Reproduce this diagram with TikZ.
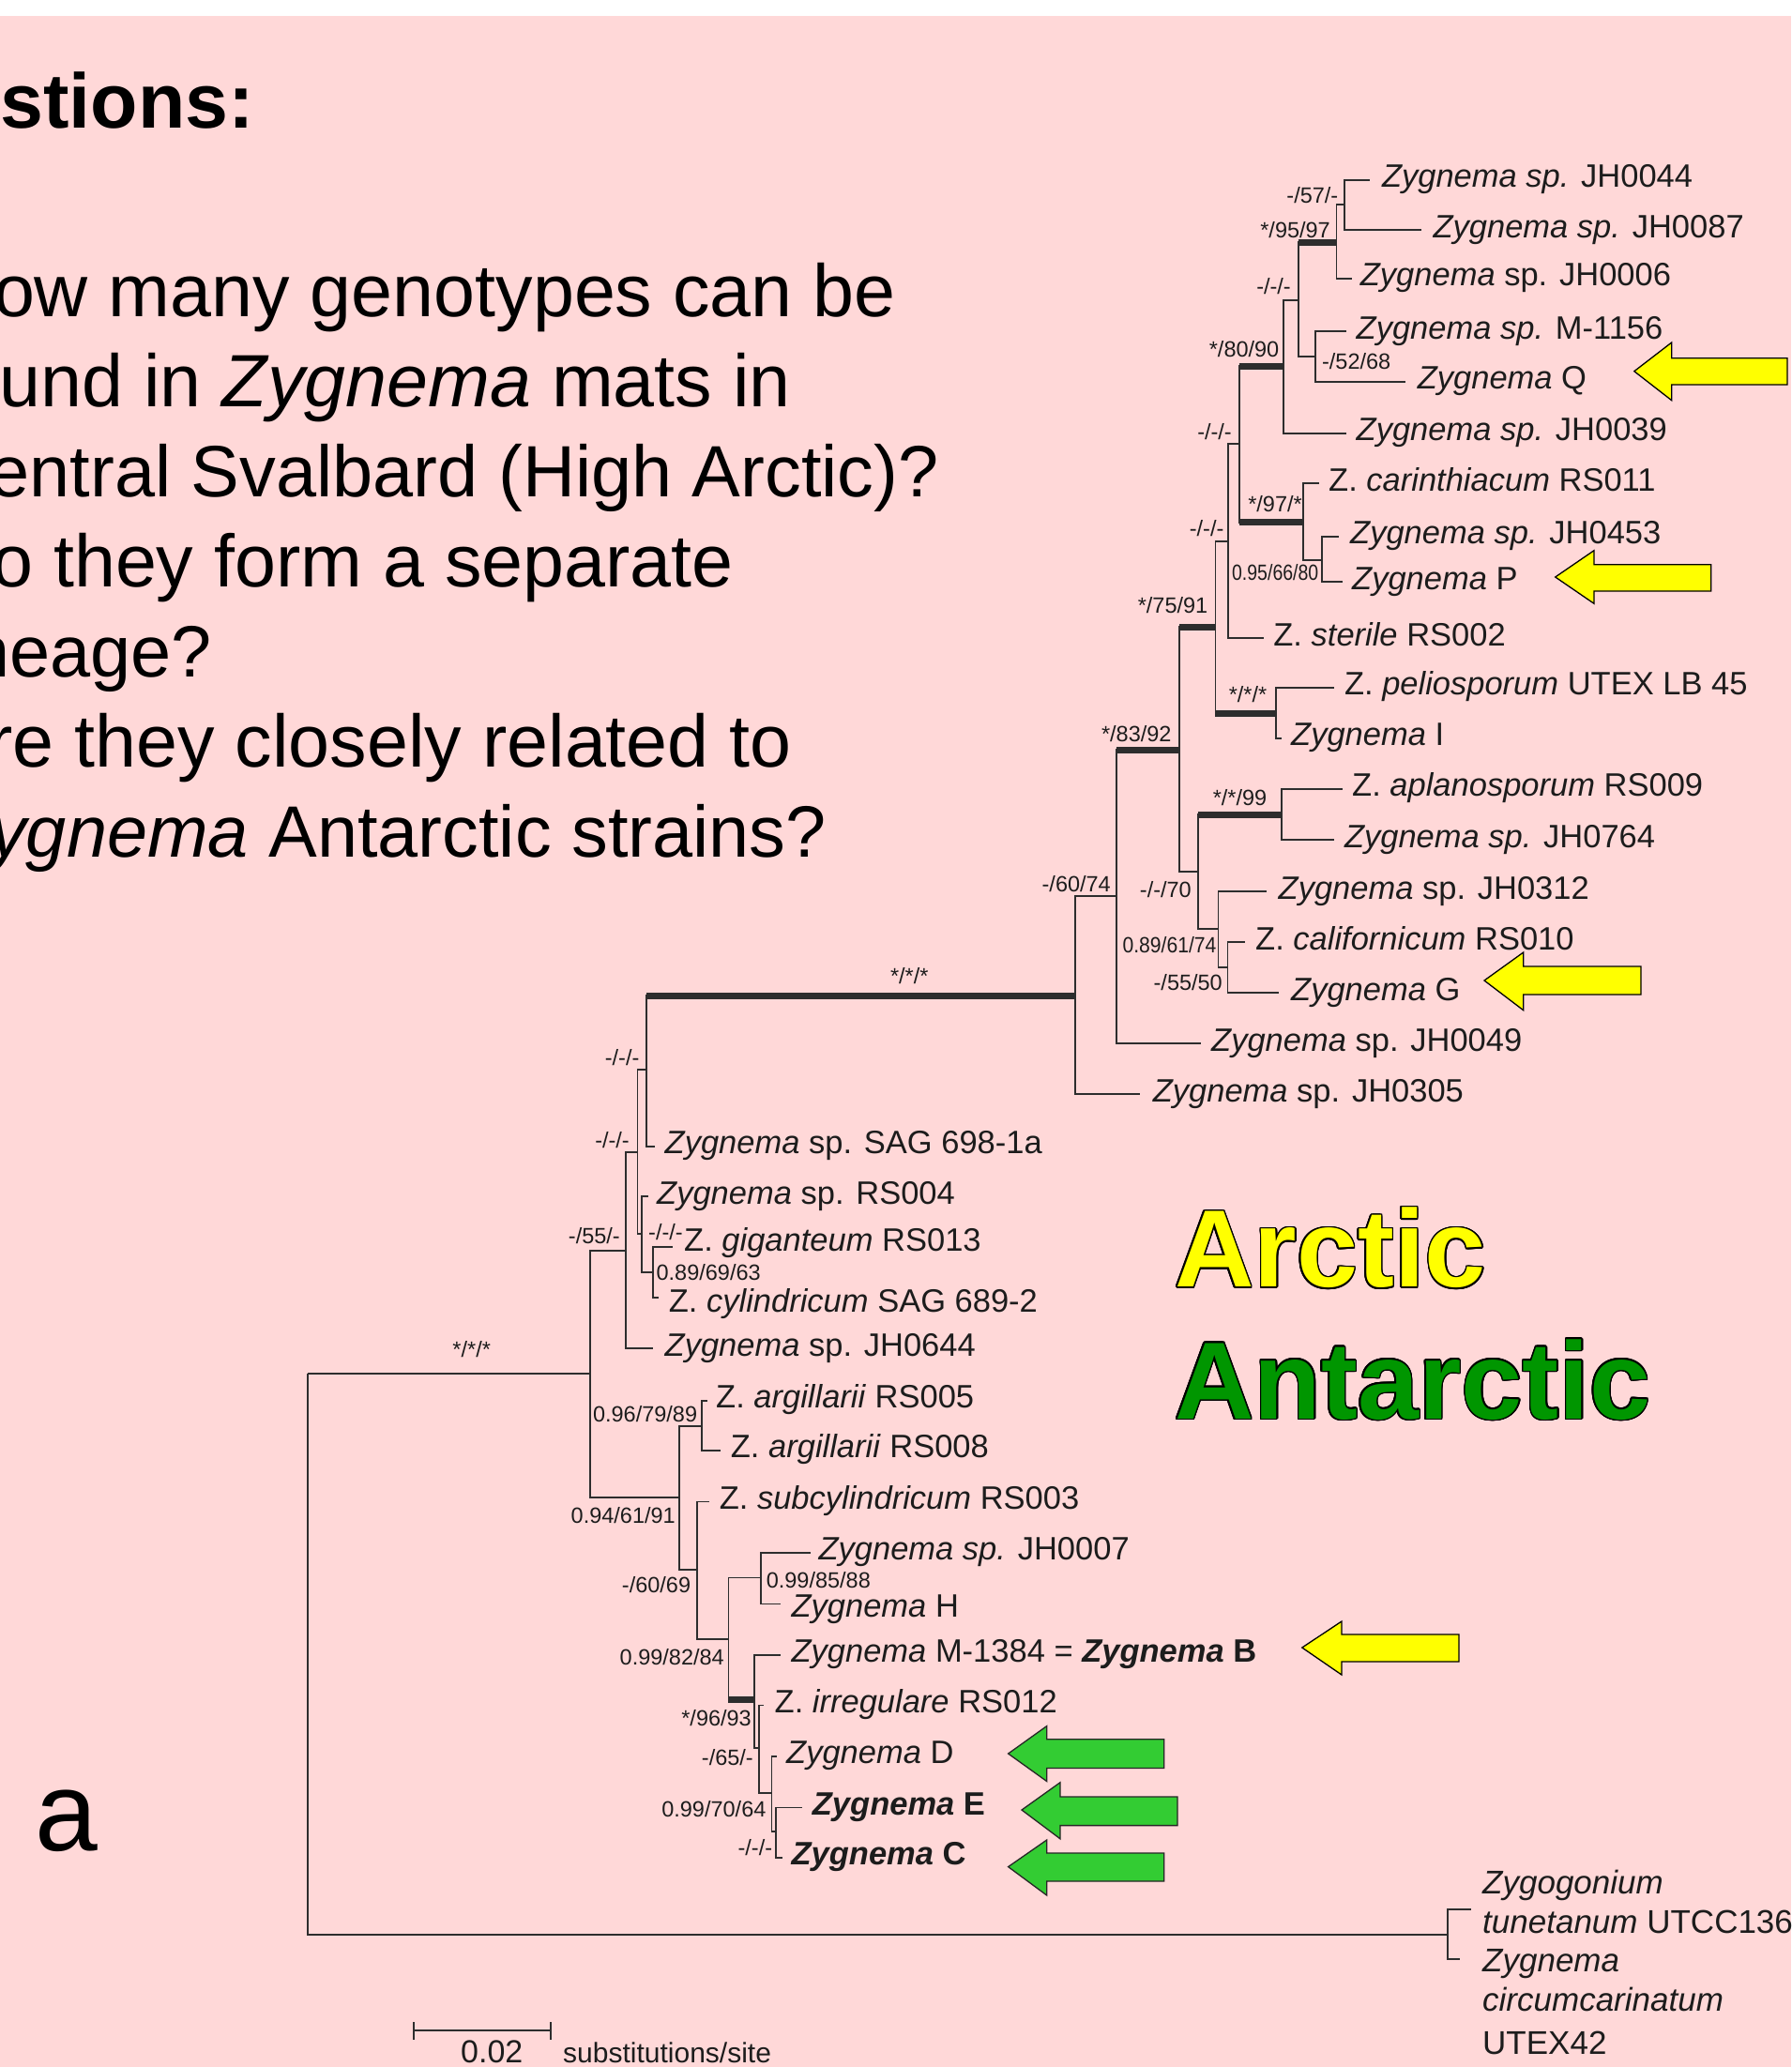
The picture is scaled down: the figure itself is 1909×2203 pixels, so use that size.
\documentclass[tikz,border=0pt]{standalone}
\usepackage{fontspec}
\setmainfont{Liberation Sans}
\definecolor{bgpink}{RGB}{255,216,216}
\definecolor{treeline}{RGB}{45,45,45}
\definecolor{txt}{RGB}{28,28,28}
\definecolor{arcyellow}{RGB}{255,255,0}
\definecolor{antgreen}{RGB}{0,150,0}
\definecolor{arrgreen}{RGB}{51,204,51}
\newcommand{\fs}[1]{\fontsize{#1pt}{#1pt}\selectfont}
\tikzset{
  br/.style={line width=1.8pt, draw=treeline},
  thickbr/.style={line width=7pt, draw=treeline},
  leaf/.style={anchor=base west, inner sep=0pt, text=txt, font=\fs{34.5}},
  sup/.style={inner sep=0pt, text=txt, font=\fs{23.5}, text height=16.8pt, text depth=0pt},
  supr/.style={sup, anchor=east},
  supl/.style={sup, anchor=west},
  supc/.style={sup, anchor=center},
  body/.style={anchor=base east, inner sep=0pt, text=black, font=\fs{79}},
  arrowY/.style={fill=arcyellow, draw=black, line width=1.3pt, line join=miter},
  arrowG/.style={fill=arrgreen, draw=black!85, line width=1.3pt, line join=miter},
  bigword/.style={anchor=base west, inner sep=0pt, font=\fs{117}\bfseries},
}
\begin{document}
\begin{tikzpicture}[x=1pt,y=-1pt]
\useasboundingbox (0,0) rectangle (1909,2203);
\clip (0,0) rectangle (1909,2203);
\fill[white] (0,0) rectangle (1909,2203);
\fill[bgpink] (0,17) rectangle (1909,2203);

% ---------- question text ----------
\node[body, font=\fs{82.5}\bfseries] (q0) at (271,136) {stions:};
\node[body] (q1) at (955,337) {ow many genotypes can be};
\node[body] (q2) at (843,433) {und in \textit{Zygnema} mats in};
\node[body, font=\fs{77.5}] (q3) at (1001,529) {entral Svalbard (High Arctic)?};
\node[body] (q4) at (782,625) {o they form a separate};
\node[body, font=\fs{77.5}] (q5) at (226,721) {neage?};
\node[body] (q6) at (844,817) {re they closely related to};
\node[body, font=\fs{77.5}] (q7) at (881,913) {\textit{ygnema} Antarctic strains?};
\node[anchor=base west, inner sep=0pt, font=\fs{120}] (pa) at (37,1972) {a};

% ---------- internal nodes ----------
\coordinate (R) at (327.7,1464.3);
\coordinate (O) at (1542.7,2061.7);
\coordinate (I0) at (629.3,1464.3);
\coordinate (N55) at (667,1332.7);
\coordinate (N94) at (724,1596);
\coordinate (Nb) at (679.5,1228.3);
\coordinate (Na) at (688.6,1140);
\coordinate (Nc) at (683.6,1315);
\coordinate (Nd) at (696,1356);
\coordinate (NA) at (1146,1061);
\coordinate (NB) at (1189.7,955);
\coordinate (NC) at (1257.3,799);
\coordinate (ND) at (1295.4,668.3);
\coordinate (NE) at (1308.8,576.7);
\coordinate (NF) at (1320.6,473.3);
\coordinate (NG) at (1367.7,390);
\coordinate (NL) at (1383.7,320);
\coordinate (NM) at (1424.4,258.3);
\coordinate (NO) at (1432.9,218.3);
\coordinate (NN) at (1402.2,380);
\coordinate (NK) at (1388.7,556.7);
\coordinate (NP) at (1408.9,596.7);
\coordinate (NI) at (1360,760);
\coordinate (NH) at (1276.7,929.3);
\coordinate (NJ) at (1365.6,868.3);
\coordinate (NQ) at (1298.5,990);
\coordinate (NR) at (1308.5,1030.7);
\coordinate (N96) at (748.3,1520);
\coordinate (N60) at (743,1673.3);
\coordinate (N99) at (776.4,1746.6);
\coordinate (N85) at (811.3,1681.5);
\coordinate (N96b) at (804.1,1811.6);
\coordinate (N65) at (809,1863.3);
\coordinate (N70) at (822.4,1911.2);
\coordinate (NEC) at (826.9,1952);

% ---------- leaf tips ----------
\coordinate (t1) at (1460.2,191.7);
\coordinate (t2) at (1514.8,245);
\coordinate (t3) at (1441.3,296.7);
\coordinate (t4) at (1435,353.3);
\coordinate (t5) at (1498,406.7);
\coordinate (t6) at (1435,461.7);
\coordinate (t7) at (1405.5,515);
\coordinate (t8) at (1426.5,571.7);
\coordinate (t9) at (1430.7,620);
\coordinate (t10) at (1346.7,680);
\coordinate (t11) at (1422.3,732.7);
\coordinate (t12) at (1365.6,786.7);
\coordinate (t13) at (1430.7,840.7);
\coordinate (t14) at (1422.3,895);
\coordinate (t15) at (1350,950);
\coordinate (t16) at (1326.8,1004.3);
\coordinate (t17) at (1363.3,1058.3);
\coordinate (t18) at (1280,1112.3);
\coordinate (t19) at (1215,1166);
\coordinate (t20) at (698,1221.7);
\coordinate (t21) at (691,1275);
\coordinate (t22) at (716.8,1329.3);
\coordinate (t23) at (702.3,1383.3);
\coordinate (t24) at (696,1437.3);
\coordinate (t25) at (754,1493.3);
\coordinate (t26) at (768,1545.7);
\coordinate (t27) at (756.2,1600.5);
\coordinate (t28) at (863.5,1654.7);
\coordinate (t29) at (832.2,1709.5);
\coordinate (t30) at (832.2,1763.8);
\coordinate (t31) at (814.4,1817.4);
\coordinate (t32) at (827.8,1872);
\coordinate (t33) at (854.6,1926.5);
\coordinate (t34) at (833.6,1980);
\coordinate (to1) at (1568.3,2035);
\coordinate (to2) at (1556,2088.3);

% ---------- branches ----------
\draw[br] (R) |- (I0);
\draw[br] (R) |- (O);
\draw[br] (O) |- (to1);
\draw[br] (O) |- (to2);
\draw[br] (I0) |- (N55);
\draw[br] (I0) |- (N94);
\draw[br] (N55) |- (Nb);
\draw[br] (N55) |- (t24);
\draw[br] (Nb) |- (Na);
\draw[br] (Nb) |- (Nc);
\draw[br] (Na) |- (NA);
\draw[thickbr] (Na |- NA) -- (NA);
\draw[br] (Na) |- (t20);
\draw[br] (Nc) |- (t21);
\draw[br] (Nc) |- (Nd);
\draw[br] (Nd) |- (t22);
\draw[br] (Nd) |- (t23);
\draw[br] (NA) |- (NB);
\draw[br] (NA) |- (t19);
\draw[br] (NB) |- (NC);
\draw[thickbr] (NB |- NC) -- (NC);
\draw[br] (NB) |- (t18);
\draw[br] (NC) |- (ND);
\draw[thickbr] (NC |- ND) -- (ND);
\draw[br] (NC) |- (NH);
\draw[br] (ND) |- (NE);
\draw[br] (ND) |- (NI);
\draw[thickbr] (ND |- NI) -- (NI);
\draw[br] (NE) |- (NF);
\draw[br] (NE) |- (t10);
\draw[br] (NF) |- (NG);
\draw[thickbr] (NF |- NG) -- (NG);
\draw[br] (NF) |- (NK);
\draw[thickbr] (NF |- NK) -- (NK);
\draw[br] (NG) |- (NL);
\draw[br] (NG) |- (t6);
\draw[br] (NL) |- (NM);
\draw[thickbr] (NL |- NM) -- (NM);
\draw[br] (NL) |- (NN);
\draw[br] (NM) |- (NO);
\draw[br] (NM) |- (t3);
\draw[br] (NO) |- (t1);
\draw[br] (NO) |- (t2);
\draw[br] (NN) |- (t4);
\draw[br] (NN) |- (t5);
\draw[br] (NK) |- (t7);
\draw[br] (NK) |- (NP);
\draw[br] (NP) |- (t8);
\draw[br] (NP) |- (t9);
\draw[br] (NI) |- (t11);
\draw[br] (NI) |- (t12);
\draw[br] (NH) |- (NJ);
\draw[thickbr] (NH |- NJ) -- (NJ);
\draw[br] (NH) |- (NQ);
\draw[br] (NJ) |- (t13);
\draw[br] (NJ) |- (t14);
\draw[br] (NQ) |- (t15);
\draw[br] (NQ) |- (NR);
\draw[br] (NR) |- (t16);
\draw[br] (NR) |- (t17);
\draw[br] (N94) |- (N96);
\draw[br] (N94) |- (N60);
\draw[br] (N96) |- (t25);
\draw[br] (N96) |- (t26);
\draw[br] (N60) |- (t27);
\draw[br] (N60) |- (N99);
\draw[br] (N99) |- (N85);
\draw[br] (N99) |- (N96b);
\draw[thickbr] (N99 |- N96b) -- (N96b);
\draw[br] (N85) |- (t28);
\draw[br] (N85) |- (t29);
\draw[br] (N96b) |- (t30);
\draw[br] (N96b) |- (N65);
\draw[br] (N65) |- (t31);
\draw[br] (N65) |- (N70);
\draw[br] (N70) |- (t32);
\draw[br] (N70) |- (NEC);
\draw[br] (NEC) |- (t33);
\draw[br] (NEC) |- (t34);

% ---------- leaf labels ----------
\node[leaf] (l1) at (1472.8,199.7) {\textit{Zygnema sp.} JH0044};
\node[leaf] (l2) at (1527.4,253) {\textit{Zygnema sp.} JH0087};
\node[leaf] (l3) at (1449.7,304.7) {\textit{Zygnema} sp. JH0006};
\node[leaf] (l4) at (1445.5,361.3) {\textit{Zygnema sp.} M-1156};
\node[leaf] (l5) at (1510.6,414.7) {\textit{Zygnema} Q};
\node[leaf] (l6) at (1445.5,469.7) {\textit{Zygnema sp.} JH0039};
\node[leaf] (l7) at (1416,523) {Z. \textit{carinthiacum} RS011};
\node[leaf] (l8) at (1439,579.7) {\textit{Zygnema sp.} JH0453};
\node[leaf] (l9) at (1441,628) {\textit{Zygnema} P};
\node[leaf] (l10) at (1357.2,688) {Z. \textit{sterile} RS002};
\node[leaf] (l11) at (1432.8,740.7) {Z. \textit{peliosporum} UTEX LB 45};
\node[leaf] (l12) at (1376,794.7) {\textit{Zygnema} I};
\node[leaf] (l13) at (1441,848.7) {Z. \textit{aplanosporum} RS009};
\node[leaf] (l14) at (1432.8,903) {\textit{Zygnema sp.} JH0764};
\node[leaf] (l15) at (1362.5,958) {\textit{Zygnema} sp. JH0312};
\node[leaf] (l16) at (1338,1012.3) {Z. \textit{californicum} RS010};
\node[leaf] (l17) at (1376,1066.3) {\textit{Zygnema} G};
\node[leaf] (l18) at (1291,1120.3) {\textit{Zygnema} sp. JH0049};
\node[leaf] (l19) at (1228.6,1174) {\textit{Zygnema} sp. JH0305};
\node[leaf] (l20) at (708.5,1229.7) {\textit{Zygnema} sp. SAG 698-1a};
\node[leaf] (l21) at (700,1283) {\textit{Zygnema} sp. RS004};
\node[leaf] (l22) at (729,1333.3) {Z. \textit{giganteum} RS013};
\node[leaf] (l23) at (712.7,1398.3) {Z. \textit{cylindricum} SAG 689-2};
\node[leaf] (l24) at (708.5,1445.3) {\textit{Zygnema} sp. JH0644};
\node[leaf] (l25) at (763,1500.3) {Z. \textit{argillarii} RS005};
\node[leaf] (l26) at (778.7,1553.7) {Z. \textit{argillarii} RS008};
\node[leaf] (l27) at (766.6,1608.5) {Z. \textit{subcylindricum} RS003};
\node[leaf] (l28) at (872.4,1662.7) {\textit{Zygnema sp.} JH0007};
\node[leaf] (l29) at (843.4,1723.5) {\textit{Zygnema} H};
\node[leaf] (l30) at (843.4,1771) {\textit{Zygnema} M-1384 = \textbf{\textit{Zygnema} B}};
\node[leaf] (l31) at (825.5,1825.2) {Z. \textit{irregulare} RS012};
\node[leaf] (l32) at (838,1879.4) {\textit{Zygnema} D};
\node[leaf] (l33) at (865.7,1934) {\textbf{\textit{Zygnema} E}};
\node[leaf] (l34) at (843.4,1987.7) {\textbf{\textit{Zygnema} C}};
\node[leaf, font=\fs{35}] (lo1) at (1580,2018.3) {\textit{Zygogonium}};
\node[leaf, font=\fs{35}] (lo2) at (1580,2060) {\textit{tunetanum} UTCC136};
\node[leaf, font=\fs{35}] (lo3) at (1580,2101.7) {\textit{Zygnema}};
\node[leaf, font=\fs{35}] (lo4) at (1580,2143.3) {\textit{circumcarinatum}};
\node[leaf, font=\fs{35}] (lo5) at (1580,2189.3) {UTEX42};

% ---------- support values ----------
\node[supr] (s1) at (1426.5,208.3) {-/57/-};
\node[supr] (s2) at (1418,245) {*/95/97};
\node[supr] (s3) at (1376,305) {-/-/-};
\node[supr] (s4) at (1363.5,371.7) {*/80/90};
\node[supl] (s5) at (1408.9,385) {-/52/68};
\node[supr] (s6) at (1313,460) {-/-/-};
\node[supc] (s7) at (1359,536.7) {*/97/*};
\node[supr] (s8) at (1304.6,563.3) {-/-/-};
\node[supr] (s9) at (1405.5,610) {\scalebox{0.83}[1]{0.95/66/80}};
\node[supc] (s10) at (1250,645) {*/75/91};
\node[supc] (s11) at (1330,740) {*/*/*};
\node[supc] (s12) at (1211.3,781.7) {*/83/92};
\node[supc] (s13) at (1321.5,850) {*/*/99};
\node[supr] (s14) at (1184,941.7) {-/60/74};
\node[supr] (s15) at (1270,948.3) {-/-/70};
\node[supr] (s16) at (1296.7,1006.7) {\scalebox{0.9}[1]{0.89/61/74}};
\node[supr] (s17) at (1303,1046.7) {-/55/50};
\node[supc] (s18) at (969.3,1040) {*/*/*};
\node[supr] (s19) at (681.6,1127) {-/-/-};
\node[supr] (s20) at (671,1215) {-/-/-};
\node[supl] (s21) at (691,1313.3) {-/-/-};
\node[supr] (s22) at (661,1316.7) {-/55/-};
\node[supl] (s23) at (699.4,1356) {0.89/69/63};
\node[supc] (s24) at (502.7,1438.3) {*/*/*};
\node[supr] (s25) at (743.3,1506.7) {0.96/79/89};
\node[supr] (s26) at (720,1615) {0.94/61/91};
\node[supr] (s27) at (736.3,1689.2) {-/60/69};
\node[supl] (s28) at (816.6,1684.2) {0.99/85/88};
\node[supr] (s29) at (772,1765.7) {0.99/82/84};
\node[supr] (s30) at (801,1830.8) {*/96/93};
\node[supr] (s31) at (803,1872.9) {-/65/-};
\node[supr] (s32) at (816.6,1928.4) {0.99/70/64};
\node[supr] (s33) at (823.3,1968.6) {-/-/-};

% ---------- arrows ----------
\draw[arrowY] (1741.8,395.7) -- (1781.7,365) -- (1781.7,381.7) -- (1905,381.7) -- (1905,410) -- (1781.7,410) -- (1781.7,426.7) -- cycle;
\draw[arrowY] (1657.7,615) -- (1699,586.7) -- (1699,601.7) -- (1823.8,601.7) -- (1823.8,630) -- (1699,630) -- (1699,643.3) -- cycle;
\draw[arrowY] (1582,1045) -- (1623.7,1015) -- (1623.7,1030) -- (1749,1030) -- (1749,1060) -- (1623.7,1060) -- (1623.7,1076.7) -- cycle;
\draw[arrowY] (1387.8,1756) -- (1430,1728) -- (1430,1742) -- (1555,1742) -- (1555,1771) -- (1430,1771) -- (1430,1785) -- cycle;
\draw[arrowG] (1074.6,1869) -- (1115.7,1839.6) -- (1115.7,1853.7) -- (1240.7,1853.7) -- (1240.7,1884.4) -- (1115.7,1884.4) -- (1115.7,1898.5) -- cycle;
\draw[arrowG] (1089,1929) -- (1130,1899.7) -- (1130,1915) -- (1255,1915) -- (1255,1945.6) -- (1130,1945.6) -- (1130,1959.8) -- cycle;
\draw[arrowG] (1074.6,1989.6) -- (1115.7,1961) -- (1115.7,1975) -- (1240.7,1975) -- (1240.7,2005) -- (1115.7,2005) -- (1115.7,2020) -- cycle;

% ---------- Arctic / Antarctic ----------
\foreach \a in {0,20,...,340} {
  \node[bigword, text=black, shift={(\a:1.6)}] at (1252,1371.7) {Arctic};
  \node[bigword, text=black, shift={(\a:1.6)}] at (1252,1512.3) {Antarctic};
}
\node[bigword, text=arcyellow] (arc) at (1252,1371.7) {Arctic};
\node[bigword, text=antgreen] (ant) at (1252,1512.3) {Antarctic};

% ---------- scale bar ----------
\coordinate (sbL) at (441,2164.3);
\coordinate (sbR) at (586.7,2164.3);
\draw[br] (sbL) -- (sbR);
\draw[br] ([yshift=-9.6pt]sbL) -- ([yshift=9.6pt]sbL);
\draw[br] ([yshift=-9.6pt]sbR) -- ([yshift=9.6pt]sbR);
\node[leaf, font=\fs{34}] (sbv) at (491,2198.3) {0.02};
\node[leaf, font=\fs{30}] (sbu) at (600,2198.3) {substitutions/site};
\end{tikzpicture}
\end{document}
